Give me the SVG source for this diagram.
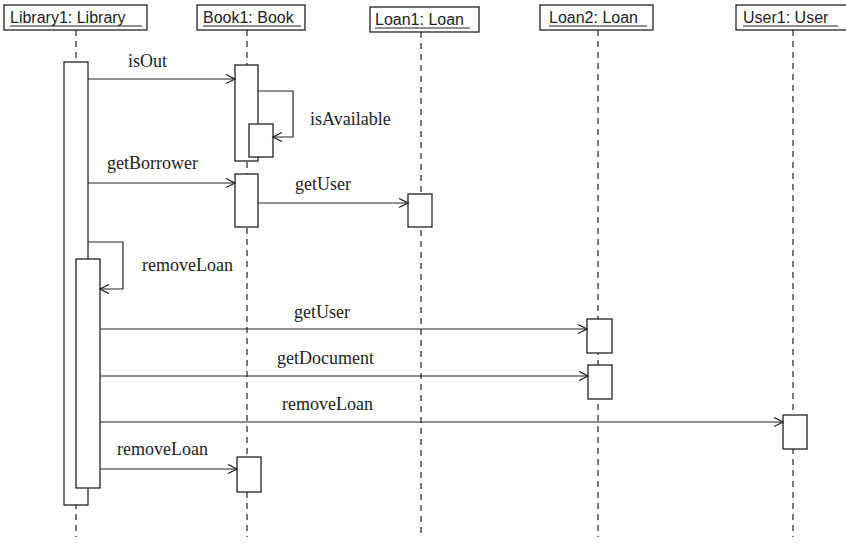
<svg xmlns="http://www.w3.org/2000/svg" width="846" height="543" viewBox="0 0 846 543">
<defs>
<marker id="arr" markerUnits="userSpaceOnUse" markerWidth="12" markerHeight="12" refX="10" refY="5" orient="auto">
<path d="M1,0.5 L10,5 L1,9.5" fill="none" stroke="#222" stroke-width="1.3"/>
</marker>
</defs>
<style>
.hbox{fill:#fff;stroke:#222;stroke-width:1.3}
.htxt{font-family:"Liberation Sans",Arial,sans-serif;font-size:16px;fill:#222}
.ul{stroke:#222;stroke-width:1.2}
.life{stroke:#222;stroke-width:1.2;stroke-dasharray:6 5;fill:none}
.act{fill:#fff;stroke:#222;stroke-width:1.3}
.msg{stroke:#222;stroke-width:1.2;fill:none;marker-end:url(#arr)}
.lbl{font-family:"Liberation Serif","Times New Roman",serif;font-size:18px;fill:#222}
</style>
<rect width="846" height="543" fill="#fff"/>

<g id="lifelines">
<line class="life" x1="76" y1="30" x2="76" y2="537"/>
<line class="life" x1="247" y1="30" x2="247" y2="537"/>
<line class="life" x1="421" y1="32" x2="421" y2="537"/>
<line class="life" x1="598" y1="30" x2="598" y2="537"/>
<line class="life" x1="793" y1="30" x2="793" y2="537"/>
</g>

<g id="library1">
<rect class="hbox" x="4" y="5" width="143" height="25"/>
<text class="htxt" x="10" y="23">Library1: Library</text>
<line class="ul" x1="10" y1="26" x2="142" y2="26"/>
<rect class="act" x="64" y="62" width="24" height="443"/>
<rect class="act" x="76" y="259" width="24" height="229"/>
</g>

<g id="book1">
<rect class="hbox" x="197" y="5" width="108" height="25"/>
<text class="htxt" x="203" y="23">Book1: Book</text>
<line class="ul" x1="203" y1="26" x2="301" y2="26"/>
<rect class="act" x="235" y="65" width="23" height="96"/>
<rect class="act" x="249" y="124" width="24" height="33"/>
<rect class="act" x="235" y="174" width="23" height="53"/>
<rect class="act" x="237" y="457" width="24" height="35"/>
</g>

<g id="loan1">
<rect class="hbox" x="370" y="7" width="109" height="25"/>
<text class="htxt" x="375" y="25">Loan1: Loan</text>
<line class="ul" x1="375" y1="28" x2="470" y2="28"/>
<rect class="act" x="408" y="194" width="24" height="33"/>
</g>

<g id="loan2">
<rect class="hbox" x="540" y="5" width="113" height="25"/>
<text class="htxt" x="549" y="23">Loan2: Loan</text>
<line class="ul" x1="549" y1="26" x2="647" y2="26"/>
<rect class="act" x="587" y="319" width="25" height="34"/>
<rect class="act" x="588" y="365" width="24" height="34"/>
</g>

<g id="user1">
<rect class="hbox" x="736" y="5" width="112" height="25"/>
<text class="htxt" x="743" y="23">User1: User</text>
<line class="ul" x1="743" y1="26" x2="838" y2="26"/>
<rect class="act" x="783" y="415" width="24" height="34"/>
</g>

<g id="connectors">
<path class="msg" d="M88,79 H235"/>
<path class="msg" d="M258,91 H293 V137 H273"/>
<path class="msg" d="M88,183 H235"/>
<path class="msg" d="M258,203 H408"/>
<path class="msg" d="M88,242 H123 V289 H100"/>
<path class="msg" d="M100,329 H587"/>
<path class="msg" d="M100,376 H588"/>
<path class="msg" d="M100,422 H783"/>
<path class="msg" d="M100,469 H237"/>
</g>

<g id="labels">
<text class="lbl" x="128" y="67">isOut</text>
<text class="lbl" x="310" y="125">isAvailable</text>
<text class="lbl" x="107" y="169">getBorrower</text>
<text class="lbl" x="295" y="190">getUser</text>
<text class="lbl" x="142" y="271">removeLoan</text>
<text class="lbl" x="294" y="318">getUser</text>
<text class="lbl" x="277" y="364">getDocument</text>
<text class="lbl" x="282" y="410">removeLoan</text>
<text class="lbl" x="117" y="455">removeLoan</text>
</g>
</svg>
